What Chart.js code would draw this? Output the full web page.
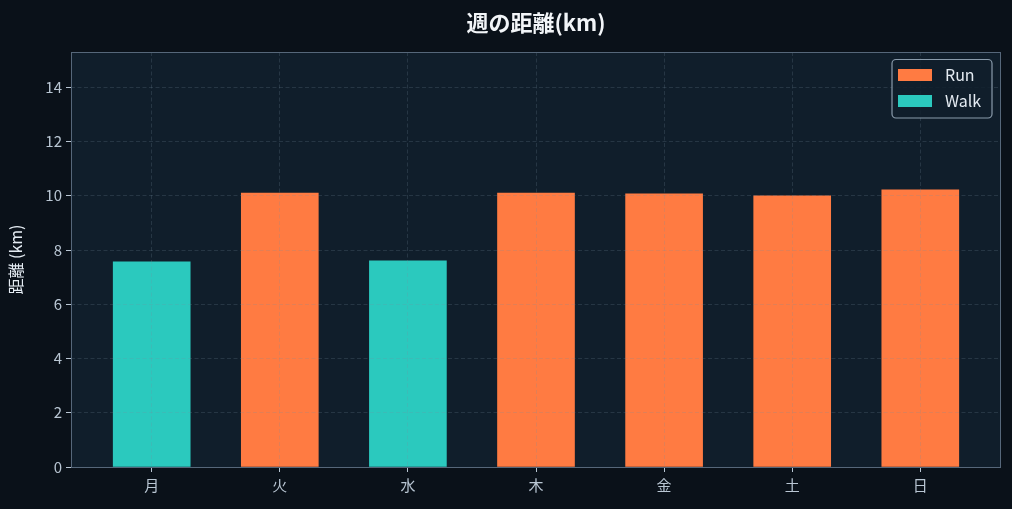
<!DOCTYPE html>
<html>
<head>
<meta charset="utf-8">
<script src="https://cdn.jsdelivr.net/npm/chart.js@4/dist/chart.umd.min.js"></script>
<style>
  html, body { margin: 0; padding: 0; background: #0a1119; }
  #wrap { width: 1012px; height: 509px; }
</style>
</head>
<body>
<div id="wrap"><canvas id="myChart" width="1012" height="509"></canvas></div>
<script>
const days = ['月', '火', '水', '木', '金', '土', '日'];
const runKm = [null, 10.1, null, 10.1, 10.07, 10.0, 10.22];
const walkKm = [7.56, null, 7.6, null, null, null, null];
const yTicks = [0, 2, 4, 6, 8, 10, 12, 14];
const chartTitle = '週の距離(km)';

const FONT = "'Noto Sans CJK JP', 'Noto Sans', sans-serif";

const toPoints = arr => arr.map((v, i) => ({ x: i, y: v }));

// plot background + frame + title + legend box
const frame = {
    id: 'frame',
    beforeDraw(chart) {
        const { ctx, chartArea: a } = chart;
        ctx.save();
        ctx.fillStyle = '#0a1119';
        ctx.fillRect(0, 0, chart.width, chart.height);
        ctx.fillStyle = '#101e2b';
        ctx.fillRect(a.left, a.top, a.right - a.left, a.bottom - a.top);
        ctx.restore();
    },
    afterDraw(chart) {
        const { ctx, chartArea: a } = chart;
        ctx.save();
        ctx.strokeStyle = '#56677a';
        ctx.lineWidth = 1;
        ctx.strokeRect(a.left + 0.5, a.top + 0.5, a.right - a.left - 1, a.bottom - a.top);

        // title, centred on the plot area
        ctx.fillStyle = '#f2f5f8';
        ctx.font = 'bold 22px ' + FONT;
        ctx.textAlign = 'center';
        ctx.textBaseline = 'middle';
        ctx.fillText(chartTitle, (a.left + a.right) / 2, 23);

        // legend
        ctx.textAlign = 'left';
        const bx = 892, by = 59.5, bw = 100, bh = 58.5;
        ctx.fillStyle = 'rgba(16,30,43,0.85)';
        ctx.strokeStyle = '#8a9bab';
        ctx.lineWidth = 1.2;
        ctx.beginPath();
        ctx.roundRect(bx, by, bw, bh, 4);
        ctx.fill();
        ctx.stroke();
        ctx.font = '16px ' + FONT;
        chart.data.datasets.forEach((ds, i) => {
            const y = 69 + i * 26;
            ctx.fillStyle = ds.backgroundColor;
            ctx.fillRect(898, y, 34, 12);
            ctx.fillStyle = '#e4ebf2';
            ctx.fillText(ds.label, 945, y + 6);
        });
        ctx.restore();
    }
};

const gridOpts = {
    z: 1,
    offset: false,
    color: 'rgba(120,140,160,0.22)',
    tickBorderDash: [],
    tickColor: '#b9c6d3',
    tickLength: 5
};

const ctx = document.getElementById('myChart').getContext('2d');
const myChart = new Chart(ctx, {
    type: 'bar',
    data: {
        datasets: [
            {
                label: 'Run',
                data: toPoints(runKm),
                backgroundColor: '#ff7b42',
                borderWidth: 0,
                grouped: false,
                barThickness: 77
            },
            {
                label: 'Walk',
                data: toPoints(walkKm),
                backgroundColor: '#2bc9be',
                borderWidth: 0,
                grouped: false,
                barThickness: 77
            }
        ]
    },
    options: {
        responsive: false,
        animation: false,
        layout: { padding: { left: 0, right: 11, top: 52, bottom: 0 } },
        scales: {
            x: {
                type: 'linear',
                offset: false,
                min: -0.63,
                max: 6.63,
                afterBuildTicks: (scale) => {
                    scale.ticks = days.map((d, i) => ({ value: i }));
                },
                afterFit: (scale) => { scale.height = 42; },
                ticks: {
                    color: '#b9c6d3',
                    font: { family: FONT, size: 15 },
                    padding: 4,
                    callback: (v) => days[v]
                },
                grid: gridOpts,
                border: { display: false, dash: [4, 2.5] }
            },
            y: {
                min: 0,
                max: 15.3,
                afterBuildTicks: (scale) => {
                    scale.ticks = yTicks.map(v => ({ value: v }));
                },
                afterFit: (scale) => { scale.width = 71; },
                ticks: {
                    color: '#b9c6d3',
                    font: { family: FONT, size: 15 },
                    padding: 4
                },
                grid: gridOpts,
                border: { display: false, dash: [4, 2.5] },
                title: {
                    display: true,
                    text: '距離 (km)',
                    color: '#e4ebf2',
                    font: { family: FONT, size: 16 },
                    padding: { top: 6, bottom: 0 }
                }
            }
        },
        plugins: {
            legend: { display: false },
            tooltip: { enabled: false },
            title: { display: false }
        }
    },
    plugins: [frame]
});
</script>
</body>
</html>
